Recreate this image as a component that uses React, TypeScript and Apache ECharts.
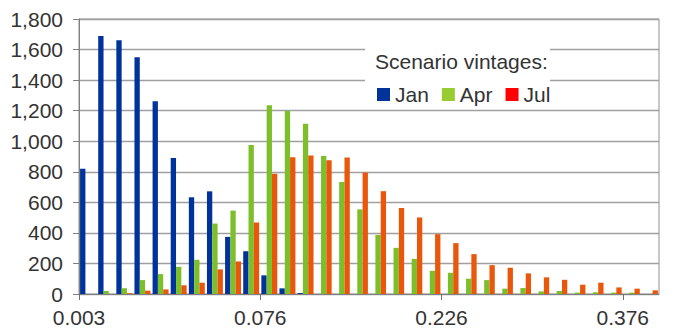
import React, { useEffect, useRef } from 'react';
import * as echarts from 'echarts';

const bins = ['1','2','3','4','5','6','7','8','9','10','11','12','13','14','15','16','17','18','19','20','21','22','23','24','25','26','27','28','29','30','31','32'];
const jan = [820,1689,1661,1550,1261,891,633,672,374,280,122,37,6,0,0,0,0,0,0,0,0,0,0,0,0,0,0,0,0,0,0,0];
const apr = [0,20,37,91,130,178,224,461,546,976,1235,1198,1115,904,733,554,387,302,230,152,139,100,91,35,39,17,20,9,11,9,9,0];
const jul = [0,0,5,22,30,57,74,161,213,468,787,895,906,876,894,795,673,563,501,392,333,261,189,172,135,109,93,61,74,43,35,24];
const tickPositions = [0, 10, 20, 30];
const tickLabels = ['0.003', '0.076', '0.226', '0.376'];
const seriesNames = ['Jan', 'Apr', 'Jul'];
const barColors = ['#00329B', '#7CBF2B', '#E8570B'];
const legendColors = ['#003399', '#99CC33', '#FF0000'];
const legendTitle = 'Scenario vintages:';

const FONT = '"Liberation Sans", Arial, sans-serif';

export default function App() {
  const ref = useRef<HTMLDivElement>(null);
  useEffect(() => {
    document.body.style.margin = '0';
    const chart = echarts.init(ref.current!, undefined, { renderer: 'svg' });
    const data = [jan, apr, jul];
    chart.setOption({
      animation: false,
      backgroundColor: '#ffffff',
      textStyle: { fontFamily: FONT },
      grid: {
        left: 79, right: 14, top: 19, bottom: 32,
        show: true, borderColor: '#909090', borderWidth: 1,
      },
      legend: {
        data: seriesNames.map((n, i) => ({ name: n, itemStyle: { color: legendColors[i] } })),
        left: 377, top: 84, padding: 0,
        itemWidth: 13, itemHeight: 13, itemGap: 13,
        icon: 'rect', selectedMode: false,
        textStyle: { fontSize: 21, color: '#333333', fontFamily: FONT, lineHeight: 20 },
      },
      graphic: {
        elements: [
          { type: 'rect', z: 1, shape: { x: 365, y: 45, width: 185, height: 62 }, style: { fill: '#ffffff' } },
          { type: 'text', z: 5, x: 375, y: 61, style: { text: legendTitle, fontSize: 21, fill: '#333333', fontFamily: FONT, verticalAlign: 'middle', align: 'left' } },
        ],
      },
      xAxis: [
        {
          type: 'category', data: bins, boundaryGap: true,
          axisLine: { show: true, lineStyle: { color: '#808080', width: 1 } },
          axisTick: { show: false }, axisLabel: { show: false }, splitLine: { show: false },
        },
        {
          type: 'value', min: 0, max: bins.length, position: 'bottom',
          axisLine: { show: false }, splitLine: { show: false },
          axisTick: { show: true, length: 6, customValues: tickPositions, lineStyle: { color: '#707070' } },
          axisLabel: {
            show: true, customValues: tickPositions, margin: 13, fontSize: 21, color: '#333333', fontFamily: FONT,
            formatter: (v: number) => tickLabels[tickPositions.indexOf(v)] ?? '',
          },
        },
      ],
      yAxis: {
        type: 'value', min: 0, max: 1800, interval: 200,
        axisLine: { show: true, lineStyle: { color: '#808080', width: 1 } },
        axisTick: { show: true, length: 6, lineStyle: { color: '#808080' } },
        axisLabel: {
          fontSize: 21, color: '#333333', margin: 16, fontFamily: FONT,
          formatter: (v: number) => v.toLocaleString('en-US'),
        },
        splitLine: { lineStyle: { color: '#a0a0a0', width: 1.3 } },
      },
      series: seriesNames.map((n, i) => ({
        name: n, type: 'bar', xAxisIndex: 0, data: data[i],
        barGap: '0%', barCategoryGap: '12%',
        itemStyle: { color: barColors[i] },
      })),
    });
    return () => chart.dispose();
  }, []);
  return <div ref={ref} style={{ position: 'fixed', left: 0, top: 0, width: 673, height: 328 }} />;
}
